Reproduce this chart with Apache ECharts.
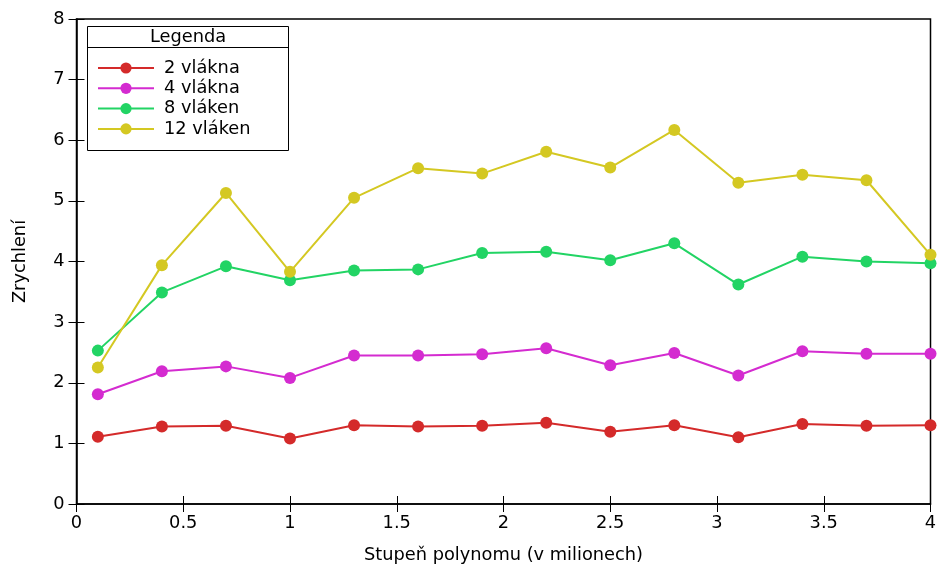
<!DOCTYPE html>
<html>
<head>
<meta charset="utf-8">
<title>Zrychlení</title>
<script src="https://cdn.jsdelivr.net/npm/echarts@6/dist/echarts.min.js"></script>
<style>
  html, body { margin: 0; padding: 0; background: #fff; }
  #chart { width: 940px; height: 569px; }
</style>
</head>
<body>
<div id="chart"></div>
<script>
// Polynomial degree (millions)
const degrees = [0.1, 0.4, 0.7, 1.0, 1.3, 1.6, 1.9, 2.2, 2.5, 2.8, 3.1, 3.4, 3.7, 4.0];

// Speedup per thread count
const threads2  = [1.11, 1.28, 1.29, 1.08, 1.30, 1.28, 1.29, 1.34, 1.19, 1.30, 1.10, 1.32, 1.29, 1.30];
const threads4  = [1.81, 2.19, 2.27, 2.08, 2.45, 2.45, 2.47, 2.57, 2.29, 2.49, 2.12, 2.52, 2.48, 2.48];
const threads8  = [2.53, 3.49, 3.92, 3.69, 3.85, 3.87, 4.14, 4.16, 4.02, 4.30, 3.62, 4.08, 4.00, 3.97];
const threads12 = [2.25, 3.94, 5.13, 3.83, 5.05, 5.54, 5.45, 5.81, 5.55, 6.17, 5.30, 5.43, 5.34, 4.11];

const seriesNames = ['2 vlákna', '4 vlákna', '8 vláken', '12 vláken'];
const seriesColors = ['#d42a2a', '#d42bd0', '#22d464', '#d4c822'];
const seriesValues = [threads2, threads4, threads8, threads12];

const FONT = 'DejaVu Sans';
const FS = 17.8;

const chart = echarts.init(document.getElementById('chart'));

const tickStyle = { show: true, inside: true, length: 8, lineStyle: { color: '#000', width: 1 } };

chart.setOption({
  animation: false,
  backgroundColor: '#fff',
  textStyle: { fontFamily: FONT },
  grid: {
    left: 76.5, right: 9.5, top: 19, bottom: 64,
    show: true, borderColor: '#000', borderWidth: 1.5, backgroundColor: 'transparent'
  },
  legend: {
    orient: 'vertical',
    left: 97,
    top: 58,
    padding: 0,
    itemWidth: 56,
    itemHeight: 14,
    itemGap: 0.3,
    data: seriesNames,
    textStyle: { fontFamily: FONT, fontSize: FS, lineHeight: 20, color: '#000', padding: [0, 0, 0, 5] }
  },
  graphic: [
    { type: 'rect', shape: { x: 87.5, y: 26.5, width: 201, height: 124 },
      style: { fill: '#fff', stroke: '#000', lineWidth: 1 }, z: 0 },
    { type: 'line', shape: { x1: 87.5, y1: 47.5, x2: 288.5, y2: 47.5 },
      style: { stroke: '#000', lineWidth: 1 }, z: 1 },
    { type: 'text', x: 188, y: 37, z: 1,
      style: { text: 'Legenda', fontFamily: FONT, fontSize: FS, fill: '#000', align: 'center', verticalAlign: 'middle' } }
  ],
  xAxis: [
    {
      type: 'value', min: 0, max: 4, interval: 0.5,
      name: 'Stupeň polynomu (v milionech)', nameLocation: 'middle', nameGap: 42,
      nameTextStyle: { fontFamily: FONT, fontSize: FS, color: '#000' },
      axisLine: { show: true, lineStyle: { color: '#000', width: 1.5 } },
      axisTick: tickStyle,
      axisLabel: { fontFamily: FONT, fontSize: FS, color: '#000', margin: 10 },
      splitLine: { show: false }
    },
    {
      type: 'value', position: 'top', min: 0, max: 4, interval: 0.5,
      axisLine: { show: false },
      axisTick: tickStyle,
      axisLabel: { show: false },
      splitLine: { show: false }
    }
  ],
  yAxis: [
    {
      type: 'value', min: 0, max: 8, interval: 1,
      name: 'Zrychlení', nameLocation: 'middle', nameGap: 47,
      nameTextStyle: { fontFamily: FONT, fontSize: FS, color: '#000' },
      axisLine: { show: true, lineStyle: { color: '#000', width: 1.5 } },
      axisTick: tickStyle,
      axisLabel: { fontFamily: FONT, fontSize: FS, color: '#000', margin: 12 },
      splitLine: { show: false }
    },
    {
      type: 'value', position: 'right', min: 0, max: 8, interval: 1,
      axisLine: { show: false },
      axisTick: tickStyle,
      axisLabel: { show: false },
      splitLine: { show: false }
    }
  ],
  series: seriesNames.map((name, i) => ({
    name: name,
    type: 'line',
    xAxisIndex: 0,
    yAxisIndex: 0,
    data: degrees.map((d, j) => [d, seriesValues[i][j]]),
    symbol: 'circle',
    symbolSize: 12,
    showSymbol: true,
    clip: false,
    z: 3,
    itemStyle: { color: seriesColors[i] },
    lineStyle: { color: seriesColors[i], width: 2 }
  }))
});
</script>
</body>
</html>
